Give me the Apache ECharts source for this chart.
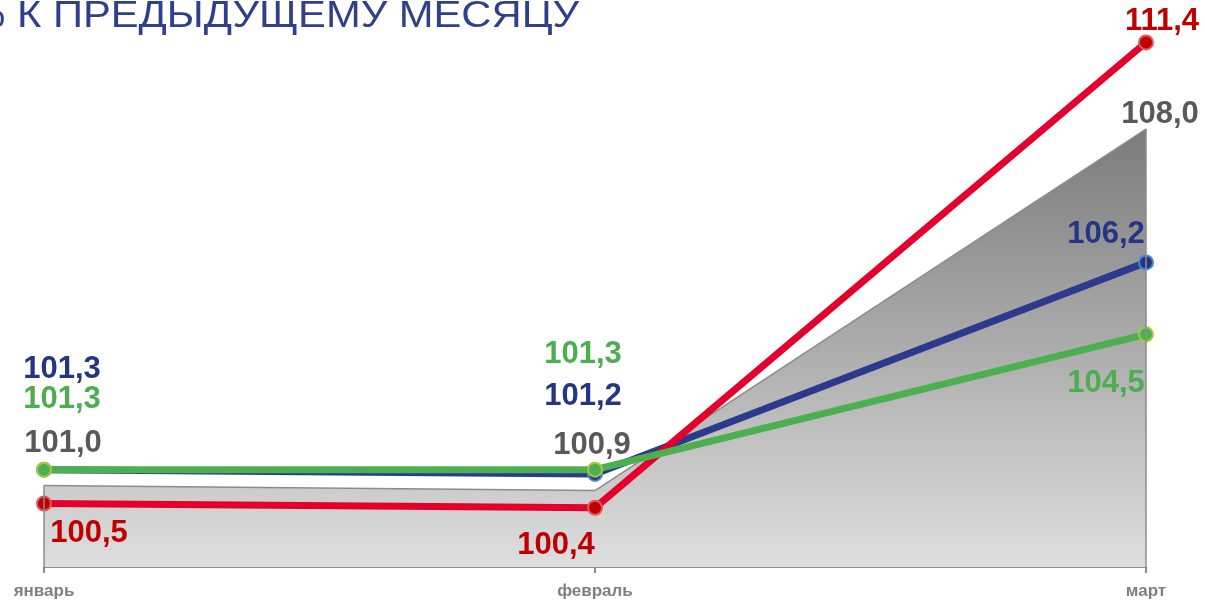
<!DOCTYPE html>
<html>
<head>
<meta charset="utf-8">
<script src="https://cdn.jsdelivr.net/npm/echarts@6/dist/echarts.min.js"></script>
<style>
html,body{margin:0;padding:0;background:#fff;}
#chart{width:1205px;height:600px;}
</style>
</head>
<body>
<div id="chart"></div>
<script>
// ---- data ----
const months = ['январь', 'февраль', 'март'];
const redValues = [100.5, 100.4, 111.4];
const navyValues = [101.3, 101.2, 106.2];
const greenValues = [101.3, 101.3, 104.5];
const grayValues = [101.0, 100.9, 108.0];
const titleText = '% К ПРЕДЫДУЩЕМУ МЕСЯЦУ';

// ---- styling ----
const primaryMin = 99, primaryMax = 112;
const secondaryMin = 99.4, secondaryMax = 110.2;
const fmt = v => v.toFixed(1).replace('.', ',');
const labelFont = { fontSize: 31, fontWeight: 'bold', fontFamily: '"Liberation Sans", Arial, sans-serif' };

function withLabels(values, color, offsets) {
  return values.map((v, i) => ({
    value: v,
    label: Object.assign({
      show: true, position: 'inside', offset: offsets[i], color: color,
      formatter: p => fmt(p.value)
    }, labelFont)
  }));
}

// title: fitted so that "К ... МЕСЯЦУ" spans the same width as in the reference
const titleFont = 'normal 36px "Liberation Sans", Arial, sans-serif';
const mctx = document.createElement('canvas').getContext('2d');
mctx.font = titleFont;
const visiblePart = titleText.slice(2);
const titleScale = 562 / mctx.measureText(visiblePart).width;

const chart = echarts.init(document.getElementById('chart'));
chart.setOption({
  animation: false,
  backgroundColor: '#ffffff',
  grid: { left: 44, right: 59, top: 17, bottom: 33 },
  graphic: [{
    type: 'text', x: 579, y: -1, scaleX: titleScale,
    style: { text: titleText, font: titleFont, fill: '#2f3f8c', align: 'right', verticalAlign: 'top' }
  }],
  xAxis: {
    type: 'category',
    data: months,
    boundaryGap: false,
    axisLine: { lineStyle: { color: '#8c8c8c', width: 2 } },
    axisTick: { show: true, length: 6, lineStyle: { color: '#8c8c8c', width: 2 } },
    axisLabel: { color: '#7f7f7f', fontSize: 17, fontWeight: 'bold', fontFamily: '"Liberation Sans", Arial, sans-serif', margin: 16 },
    splitLine: { show: false }
  },
  yAxis: [
    { type: 'value', min: primaryMin, max: primaryMax, show: false, splitLine: { show: false } },
    { type: 'value', min: secondaryMin, max: secondaryMax, show: false, splitLine: { show: false } }
  ],
  series: [
    {
      name: 'gray', type: 'line', yAxisIndex: 1, z: 1,
      data: withLabels(grayValues, '#595959', [[19, -42], [-3, -45], [14, -15]]),
      symbol: 'circle', symbolSize: 1,
      itemStyle: { color: '#8c8c8c' },
      lineStyle: { color: '#8c8c8c', width: 1.5 },
      areaStyle: {
        origin: 'start', opacity: 1,
        color: new echarts.graphic.LinearGradient(0, 0, 0, 1, [
          { offset: 0, color: '#7b7b7b' },
          { offset: 1, color: '#dedede' }
        ])
      },
      markLine: {
        silent: true, symbol: ['none', 'none'],
        label: { show: false },
        lineStyle: { color: '#8c8c8c', width: 1.5, type: 'solid' },
        data: [
          [{ coord: [0, secondaryMin] }, { coord: [0, grayValues[0]] }],
          [{ coord: [2, secondaryMin] }, { coord: [2, grayValues[2]] }]
        ]
      }
    },
    {
      name: 'navy', type: 'line', z: 2,
      data: withLabels(navyValues, '#253585', [[18, -100], [-12, -77], [-40, -28]]),
      symbol: 'circle', symbolSize: 14,
      itemStyle: { color: '#253585', borderColor: '#4a86d6', borderWidth: 2 },
      lineStyle: { color: '#2b3a8c', width: 7 }
    },
    {
      name: 'red', type: 'line', z: 3,
      data: withLabels(redValues, '#c00000', [[45, 30], [-39, 38], [16, -21]]),
      symbol: 'circle', symbolSize: 14,
      itemStyle: { color: '#c00000', borderColor: '#e05858', borderWidth: 2 },
      lineStyle: { color: '#e4002b', width: 7 }
    },
    {
      name: 'green', type: 'line', z: 4,
      data: withLabels(greenValues, '#4dae4f', [[18, -70], [-12, -115], [-40, 49]]),
      symbol: 'circle', symbolSize: 14,
      itemStyle: { color: '#4caf50', borderColor: '#a6c93a', borderWidth: 2 },
      lineStyle: { color: '#4caf50', width: 7 }
    }
  ]
});
</script>
</body>
</html>
